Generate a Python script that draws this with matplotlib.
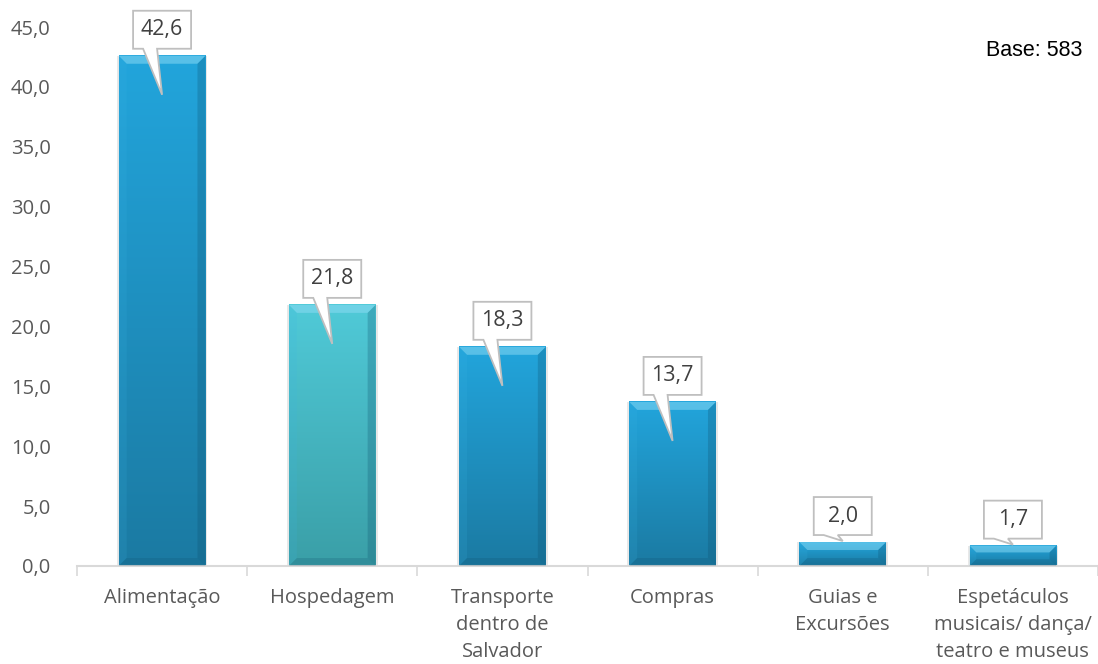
import numpy as np
import matplotlib
matplotlib.use("Agg")
import matplotlib.pyplot as plt
from matplotlib.patches import Polygon
from matplotlib.transforms import ScaledTranslation

# dados do gráfico
categorias = ["Alimentação", "Hospedagem", "Transporte\ndentro de\nSalvador", "Compras",
              "Guias e\nExcursões", "Espetáculos\nmusicais/ dança/\nteatro e museus"]
valores = [42.6, 21.8, 18.3, 13.7, 2.0, 1.7]
rotulos = ["42,6", "21,8", "18,3", "13,7", "2,0", "1,7"]
base_txt = "Base: 583"

# cores (topo, base) de cada barra
cor_azul = ("#22a5dc", "#1b7aa2")
cor_teal = ("#50cad8", "#3a9fa7")
cores = [cor_azul, cor_teal, cor_azul, cor_azul, cor_azul, cor_azul]

plt.rcParams['font.family'] = ['Open Sans', 'DejaVu Sans']

W, H = 1098, 664
fig = plt.figure(figsize=(W / 100, H / 100), dpi=100)
ax_l, ax_b, ax_r, ax_t = 77, 98, 1098, 27
ax = fig.add_axes([ax_l / W, ax_b / H, (ax_r - ax_l) / W, (H - ax_b - ax_t) / H])

ymax = 45
xs = np.arange(len(valores))
largura = 0.51
sx = (ax_r - ax_l) / len(valores)      # px por unidade em x
sy = (H - ax_b - ax_t) / ymax          # px por unidade em y

grad = np.linspace(0, 1, 256).reshape(-1, 1)

for x, v, (c_top, c_bot) in zip(xs, valores, cores):
    x0, x1 = x - largura / 2, x + largura / 2
    cmap = matplotlib.colors.LinearSegmentedColormap.from_list("g", [c_bot, c_top])
    ax.imshow(grad, extent=[x0, x1, 0, v], origin="lower", cmap=cmap,
              aspect="auto", zorder=2, interpolation="bilinear")
    # sombra leve
    sombra = Polygon([(x0 - 2 / sx, 0), (x1 + 2 / sx, 0), (x1 + 2 / sx, v), (x0 - 2 / sx, v)],
                     closed=True, facecolor="#bfbfbf", edgecolor="none", alpha=0.35, zorder=1)
    ax.add_patch(sombra)
    # chanfro (bevel)
    b = min(8, v * sy / 3)
    bx, by = b / sx, b / sy
    topo = Polygon([(x0, v), (x1, v), (x1 - bx, v - by), (x0 + bx, v - by)],
                   closed=True, facecolor="#8fdcf5", edgecolor="none", alpha=0.5, zorder=3)
    esq = Polygon([(x0, v), (x0 + bx, v - by), (x0 + bx, by), (x0, 0)],
                  closed=True, facecolor="#3db6e6", edgecolor="none", alpha=0.15, zorder=3)
    dir_ = Polygon([(x1, v), (x1 - bx, v - by), (x1 - bx, by), (x1, 0)],
                   closed=True, facecolor="#0d4d6b", edgecolor="none", alpha=0.25, zorder=3)
    fundo = Polygon([(x0, 0), (x1, 0), (x1 - bx, by), (x0 + bx, by)],
                    closed=True, facecolor="#0d4d6b", edgecolor="none", alpha=0.2, zorder=3)
    for p in (topo, esq, dir_, fundo):
        ax.add_patch(p)

# balões com os valores
for x, v, txt in zip(xs, valores, rotulos):
    ponta = -39 if v > 5 else 1
    verts = np.array([(-29, 7), (-19, 7), (0, ponta), (-5, 7), (29, 7),
                      (29, 45), (-29, 45)]) / 100.0
    tr = fig.dpi_scale_trans + ScaledTranslation(x, v, ax.transData)
    balao = Polygon(verts, closed=True, facecolor="white", edgecolor="#bfbfbf",
                    linewidth=1.3, transform=tr, zorder=4, clip_on=False)
    ax.add_patch(balao)
    ax.text(0, 0.26, txt, transform=tr, ha="center", va="center",
            fontsize=15.5, color="#404040", zorder=5)

ax.set_xlim(-0.5, len(valores) - 0.5)
ax.set_ylim(0, ymax)
ax.set_yticks(np.arange(0, ymax + 1, 5))
ax.set_yticklabels([f"{t:.1f}".replace(".", ",") for t in np.arange(0, ymax + 1, 5)])
ax.set_xticks(xs)
ax.set_xticklabels(categorias, linespacing=1.45)
ax.set_xticks(np.arange(-0.5, len(valores)), minor=True)
ax.tick_params(axis="x", which="major", length=0, pad=16, labelsize=14.5, labelcolor="#595959")
ax.tick_params(axis="x", which="minor", length=7, width=1.2, color="#d9d9d9")
ax.tick_params(axis="y", length=0, pad=19, labelsize=14.5, labelcolor="#595959")

for s in ("top", "right", "left"):
    ax.spines[s].set_visible(False)
ax.spines["bottom"].set_color("#d9d9d9")
ax.spines["bottom"].set_linewidth(1.5)

fig.text(1034 / W, 1 - 50 / H, base_txt, ha="center", va="center", fontsize=15.5,
         color="black", family=["Liberation Sans", "DejaVu Sans"])

fig.savefig("out.png", dpi=100)
